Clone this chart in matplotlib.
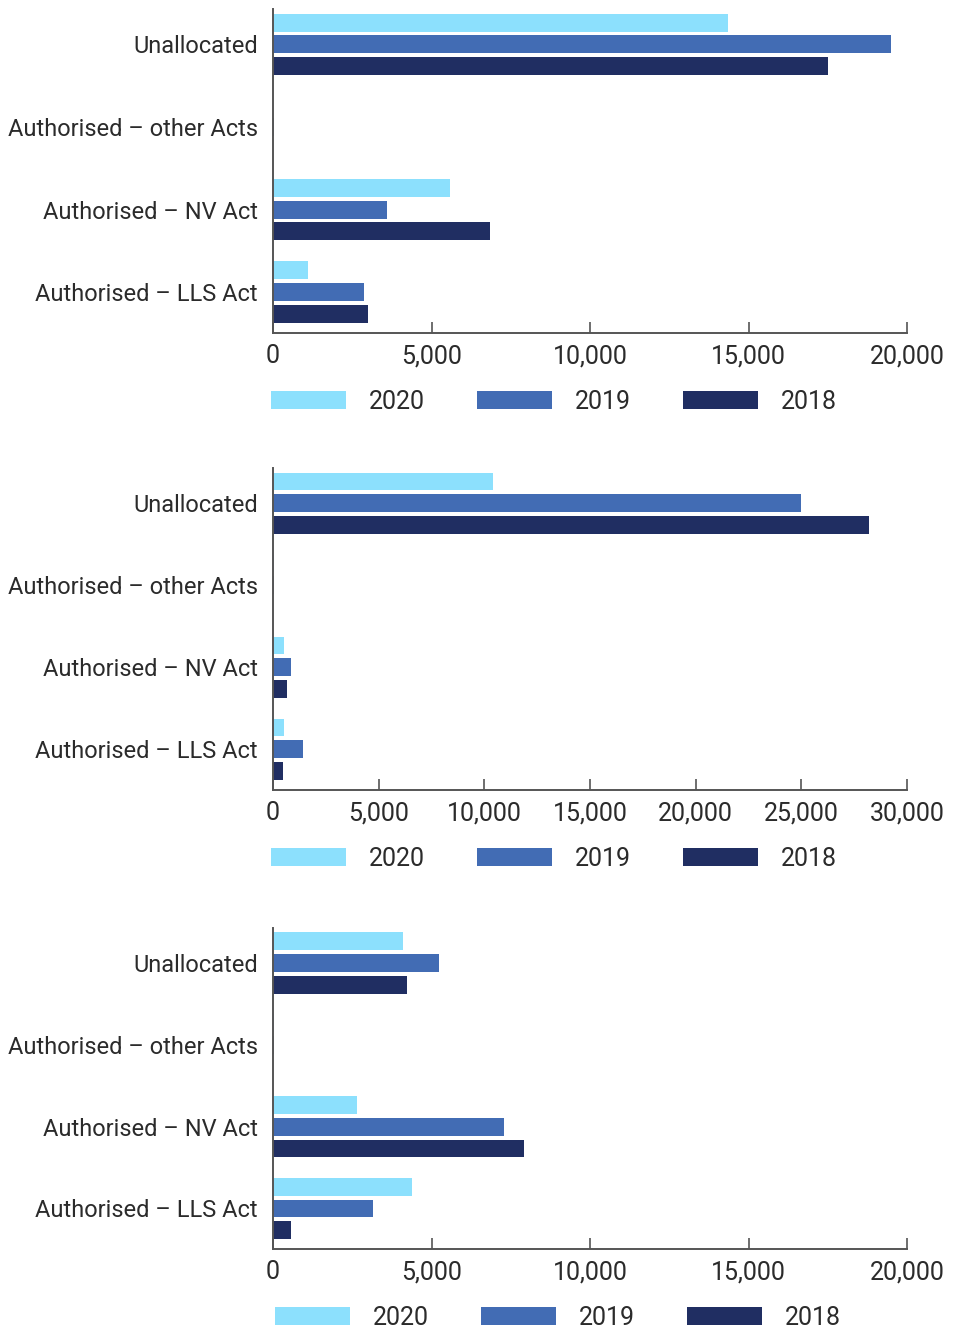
import numpy as np
import matplotlib
matplotlib.use("Agg")
import matplotlib.pyplot as plt
from matplotlib import ticker

plt.rcParams['font.family'] = ['Roboto', 'DejaVu Sans']

categories = ['Authorised – LLS Act', 'Authorised – NV Act',
              'Authorised – other Acts', 'Unallocated']
years = ['2020', '2019', '2018']
colors = ['#8CE0FD', '#426CB4', '#202E62']

# values per chart, ordered as categories (LLS, NV, other, Unallocated)
chart1_2020 = [1100, 5580, 0, 14350]
chart1_2019 = [2870, 3600, 20, 19500]
chart1_2018 = [3000, 6850, 0, 17500]

chart2_2020 = [520, 520, 40, 10400]
chart2_2019 = [1420, 850, 40, 25000]
chart2_2018 = [470, 660, 0, 28200]

chart3_2020 = [4380, 2650, 30, 4100]
chart3_2019 = [3150, 7290, 30, 5240]
chart3_2018 = [570, 7920, 0, 4230]

charts = [
    ([chart1_2020, chart1_2019, chart1_2018], 20000, [0, 5000, 10000, 15000, 20000]),
    ([chart2_2020, chart2_2019, chart2_2018], 30000, [0, 5000, 10000, 15000, 20000, 25000, 30000]),
    ([chart3_2020, chart3_2019, chart3_2018], 20000, [0, 5000, 10000, 15000, 20000]),
]

text_color = '#2b2b2b'
spine_color = '#555555'
fs = 17
fs_num = 18

W, H = 958, 1328
fig = plt.figure(figsize=(W / 100, H / 100), dpi=100)

# axes boxes in pixels: (top, bottom), legend x shift
boxes = [(9, 333, -0.003), (468, 790, -0.003), (928, 1249, 0.003)]
left_px, right_px = 273, 907

y = np.arange(len(categories))
offsets = [0.266, 0.0, -0.266]
bar_h = 0.218

for (series, xmax, xticks), (top, bottom, lx) in zip(charts, boxes):
    ax = fig.add_axes([left_px / W, 1 - bottom / H,
                       (right_px - left_px) / W, (bottom - top) / H])
    for vals, off, c, yr in zip(series, offsets, colors, years):
        ax.barh(y + off, vals, height=bar_h, color=c, label=yr)

    ax.set_xlim(0, xmax)
    ax.set_ylim(-0.496, 3.43)
    ax.set_xticks(xticks)
    ax.xaxis.set_major_formatter(ticker.FuncFormatter(lambda v, p: f'{v:,.0f}'))
    ax.set_yticks(y)
    ax.set_yticklabels(categories)

    for s in ['top', 'right']:
        ax.spines[s].set_visible(False)
    for s in ['left', 'bottom']:
        ax.spines[s].set_color(spine_color)
        ax.spines[s].set_linewidth(1.4)

    ax.tick_params(axis='x', direction='in', length=8, width=1.2,
                   color=spine_color, pad=8, labelsize=fs_num, labelcolor=text_color)
    ax.tick_params(axis='y', length=0, pad=11, labelsize=fs, labelcolor=text_color)

    leg_y = -69 / (bottom - top)
    ax.legend(loc='center left', bbox_to_anchor=(lx, leg_y), ncol=3,
              frameon=False, fontsize=fs_num, handlelength=3.0, handleheight=0.72,
              handletextpad=0.9, columnspacing=2.1, borderpad=0,
              borderaxespad=0, labelcolor=text_color)

fig.savefig('out.png', dpi=100)
